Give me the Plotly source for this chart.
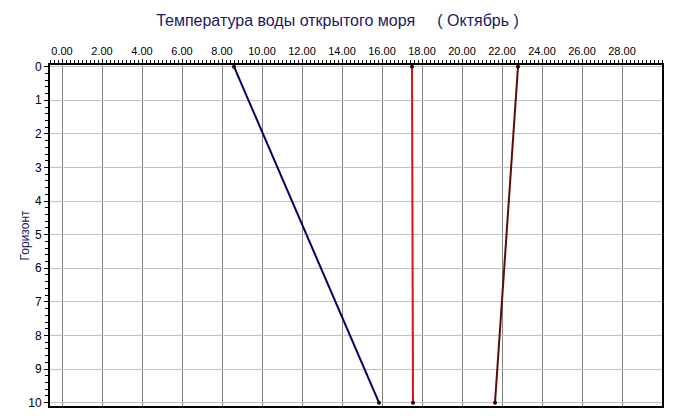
import plotly.graph_objects as go

# Data: temperature (°C) by horizon (depth level)
horizons = [0, 10]
temp_blue = [8.6, 15.85]
temp_red = [17.5, 17.55]
temp_darkred = [22.8, 21.65]

x_ticks = [0, 2, 4, 6, 8, 10, 12, 14, 16, 18, 20, 22, 24, 26, 28]
y_ticks = [0, 1, 2, 3, 4, 5, 6, 7, 8, 9, 10]

fig = go.Figure()
series = [
    (temp_blue, "#000060"),
    (temp_red, "#dd1010"),
    (temp_darkred, "#5a0c0c"),
]
for temps, color in series:
    fig.add_trace(go.Scatter(
        x=temps, y=horizons, mode="lines+markers",
        line=dict(color=color, width=2),
        marker=dict(color="#300000", size=4),
        showlegend=False, cliponaxis=False,
    ))

# page body has an 8px default margin, so the figure is sized to fit the window
fig.update_layout(
    width=667, height=411,
    margin=dict(l=42, r=13, t=57, b=13),
    paper_bgcolor="white", plot_bgcolor="white",
    font=dict(family="Liberation Sans, Arial", size=11, color="black"),
    title=dict(
        text="Температура воды открытого моря     ( Октябрь )",
        x=0.494, xanchor="center", y=0.971, yanchor="middle",
        font=dict(size=16, color="#1a1a5e"),
    ),
    xaxis=dict(
        side="top", range=[-0.6, 30], tickvals=x_ticks, automargin=False,
        tickformat=".2f", showgrid=True, gridcolor="#808080", gridwidth=1,
        zeroline=False, showline=True, linecolor="black", linewidth=2,
        mirror=True, ticks="outside", ticklen=4, tickcolor="black",
        minor=dict(dtick=0.2, ticks="outside", ticklen=3, tickcolor="black", showgrid=False),
        tickfont=dict(size=11),
    ),
    yaxis=dict(
        range=[10.1, -0.05], tickvals=y_ticks, automargin=False,
        showgrid=True, gridcolor="#c0c0c0", gridwidth=1,
        zeroline=False, showline=True, linecolor="black", linewidth=2,
        mirror=True, ticks="outside", ticklen=4, tickcolor="black",
        minor=dict(dtick=0.2, ticks="outside", ticklen=3, tickcolor="black", showgrid=False),
        tickfont=dict(size=12),
    ),
    annotations=[dict(
        text="Горизонт", xref="paper", yref="paper", x=-0.041, y=0.5,
        xanchor="center", yanchor="middle", textangle=-90, showarrow=False,
        font=dict(size=12, color="#1a1a5e"),
    )],
)

fig.write_html("out.html")
